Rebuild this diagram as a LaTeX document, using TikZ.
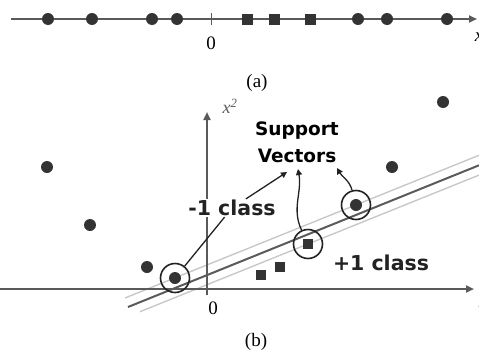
\documentclass[tikz,border=0pt]{standalone}
\usepackage{fontspec}
\setmainfont{Liberation Serif}
\newfontfamily\labelfont{DejaVu Sans}
\usepackage{xcolor}
\usepackage{tikz}
\usetikzlibrary{arrows.meta, positioning, calc}
\definecolor{SVMDot}{RGB}{51, 51, 51}
\definecolor{SVMAxis}{RGB}{90, 90, 90}
\definecolor{SVMMargin}{RGB}{200, 200, 200}
\definecolor{SVMRing}{RGB}{34, 34, 34}

\tikzset{
  ptdot/.style={circle, fill=SVMDot, inner sep=0pt, minimum size=12pt},
  ptsq/.style={rectangle, fill=SVMDot, inner sep=0pt, minimum size=11pt},
  svring/.style={circle, draw=SVMRing, line width=1.6pt, inner sep=0pt, minimum size=29pt},
  axisline/.style={SVMAxis, line width=2.4pt, -{Triangle[length=8pt, width=7pt]}},
  margline/.style={SVMMargin, line width=1.4pt},
  hyperline/.style={SVMAxis, line width=2pt},
  pointer/.style={SVMRing, line width=1.3pt, -{Triangle[length=6pt, width=6pt]}},
  classlabel/.style={font=\labelfont\bfseries\fontsize{20.5}{22}\selectfont, text=SVMRing, fill=white, inner sep=1pt},
  serifnum/.style={font=\fontsize{19}{21}\selectfont},
}

\begin{document}
\begin{tikzpicture}[x=1pt, y=1pt]
    \useasboundingbox (0,0) rectangle (479,-351);
    % (a) points on the line
    \coordinate (topstart) at (11,-19);
    \coordinate (topend) at (477,-19);
    \draw[axisline] (topstart) -- (topend);
    \draw[SVMAxis, line width=1pt] (211,-13) -- (211,-25);
    \foreach \px [count=\i] in {48,92,152,177,358,387,447}
      \node[ptdot] (adot\i) at (\px,-19) {};
    \foreach \px [count=\i] in {247,274,310}
      \node[ptsq] (asq\i) at (\px,-19) {};
    \node[serifnum] (azero) at (211,-43) {0};
    \node[font={\fontsize{19}{21}\selectfont\itshape}] (axlab) at (479,-37) {x};
    \node[serifnum] (capa) at (257,-83) {(a)};

    % (b) mapped to the plane
    \draw[margline] (125,-298) -- (479,-155.3);
    \draw[margline] (140,-311.7) -- (479,-175.1);
    \draw[hyperline] (128,-307) -- (479,-165.3);
    \draw[axisline] (0,-289) -- (474,-289);
    \draw[axisline] (207,-295) -- (207,-112);
    \node[font={\fontsize{18}{20}\selectfont\itshape}, text=SVMAxis] (ylab) at (230,-106) {x\textsuperscript{2}};
    \node[serifnum] (bzero) at (213,-308) {0};
    \node[font={\fontsize{19}{21}\selectfont\itshape}, text=SVMAxis] (bxlab) at (483,-303) {x};
    \node[serifnum] (capb) at (256,-342) {(b)};

    \foreach \pos [count=\i] in {(47,-167),(90,-225),(147,-267),(392,-167),(443,-102)}
      \node[ptdot] (bdot\i) at \pos {};
    \node[ptsq, minimum size=10pt] (bsq1) at (261,-275) {};
    \node[ptsq, minimum size=10pt] (bsq2) at (280,-267) {};

    % support vectors
    \node[svring] (sv1) at (175,-278) {};
    \node[ptdot] at (sv1) {};
    \node[svring] (sv2) at (308,-244) {};
    \node[ptsq, minimum size=10pt] at (sv2) {};
    \node[svring] (sv3) at (356,-205) {};
    \node[ptdot] at (sv3) {};

    \node[classlabel] (minus) at (232,-208) {-1 class};
    \node[classlabel] (plus) at (381,-263) {+1 class};
    \node[font=\labelfont\bfseries\fontsize{18.5}{27}\selectfont, text=black, align=center] (svtext) at (297,-142) {Support\\Vectors};

    \coordinate (tipA) at (287,-172);
    \coordinate (tipB) at (298,-169);
    \coordinate (tipC) at (337,-168);
    \draw[SVMRing, line width=1.3pt] (minus) -- (sv1);
    \draw[pointer] (minus) -- (tipA);
    \draw[pointer] (sv2) to[out=115, in=-80] (tipB);
    \draw[pointer] (sv3) to[out=105, in=-60] (tipC);
\end{tikzpicture}
\end{document}
